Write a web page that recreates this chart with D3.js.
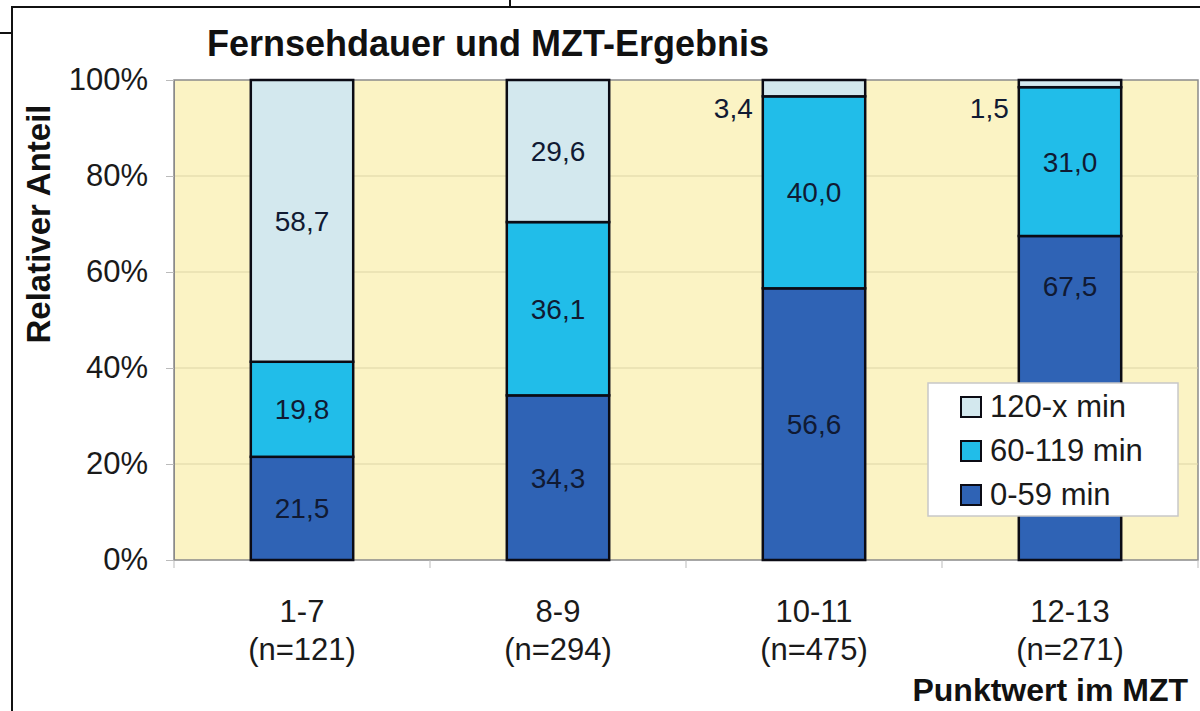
<!DOCTYPE html>
<html>
<head>
<meta charset="utf-8">
<script src="https://cdn.jsdelivr.net/npm/d3@7"></script>
<style>
  body { margin: 0; background: #fff; }
  svg { display: block; font-family: "Liberation Sans", Arial, sans-serif; }
</style>
</head>
<body>
<div id="chart"></div>
<script>
const categories = ["1-7", "8-9", "10-11", "12-13"];
const sampleSizes = ["(n=121)", "(n=294)", "(n=475)", "(n=271)"];
const seriesNames = ["0-59 min", "60-119 min", "120-x min"];
const low = [21.5, 34.3, 56.6, 67.5];
const mid = [19.8, 36.1, 40.0, 31.0];
const high = [58.7, 29.6, 3.4, 1.5];
const yTicks = [0, 20, 40, 60, 80, 100];

const colors = ["#2f63b5", "#21bde9", "#d3e8ee"];

const width = 1200, height = 711;
const margin = { top: 80, right: 2, bottom: 151, left: 174 };

const svg = d3.select("#chart").append("svg")
    .attr("width", width)
    .attr("height", height);

// cropped frame from the source page
svg.append("path")
    .attr("d", "M12,711 V7 H1200 M0,33 H12 M510,0 V7")
    .attr("fill", "none")
    .attr("stroke", "#111")
    .attr("stroke-width", 2);

const x = d3.scaleBand()
    .domain(categories)
    .range([margin.left, width - margin.right])
    .paddingInner(0.6)
    .paddingOuter(0.3);

const y = d3.scaleLinear()
    .domain([0, 100])
    .range([height - margin.bottom, margin.top]);

// plot area background
svg.append("rect")
    .attr("x", margin.left)
    .attr("y", y(100))
    .attr("width", width - margin.right - margin.left)
    .attr("height", y(0) - y(100))
    .attr("fill", "#fbf3c4")
    .attr("stroke", "#8a8a8a")
    .attr("stroke-width", 1.5);

// gridlines
svg.append("g")
    .selectAll("line")
    .data(yTicks.filter(d => d > 0 && d < 100))
    .join("line")
    .attr("x1", margin.left)
    .attr("x2", width - margin.right)
    .attr("y1", d => y(d))
    .attr("y2", d => y(d))
    .attr("stroke", "#ddd5a6")
    .attr("stroke-width", 1.2);

// y axis
const yAxis = svg.append("g")
    .attr("transform", `translate(${margin.left},0)`)
    .call(d3.axisLeft(y).tickValues(yTicks).tickFormat(d => d + "%").tickSize(8).tickPadding(18));
yAxis.select(".domain").attr("stroke", "#8a8a8a");
yAxis.selectAll(".tick line").attr("stroke", "#bbb");
yAxis.selectAll("text")
    .attr("font-size", 31)
    .attr("fill", "#1a1a1a")
    .attr("font-family", "Liberation Sans, Arial, sans-serif");

// x axis ticks at category boundaries
const step = x.step();
const bounds = d3.range(categories.length + 1).map(i => margin.left + i * step);
svg.append("g")
    .selectAll("line")
    .data(bounds)
    .join("line")
    .attr("x1", d => d)
    .attr("x2", d => d)
    .attr("y1", y(0))
    .attr("y2", y(0) + 8)
    .attr("stroke", "#bbb");

const xLabels = svg.append("g")
    .selectAll("text")
    .data(categories)
    .join("text")
    .attr("x", d => x(d) + x.bandwidth() / 2)
    .attr("text-anchor", "middle")
    .attr("font-size", 31)
    .attr("fill", "#1a1a1a");
xLabels.append("tspan").attr("x", d => x(d) + x.bandwidth() / 2).attr("y", 622).text(d => d);
xLabels.append("tspan").attr("x", d => x(d) + x.bandwidth() / 2).attr("y", 660).text((d, i) => sampleSizes[i]);

// stacked bars
const rows = categories.map((c, i) => ({ cat: c, "0-59 min": low[i], "60-119 min": mid[i], "120-x min": high[i] }));
const stack = d3.stack().keys(seriesNames)(rows);

const layers = svg.append("g")
    .selectAll("g")
    .data(stack)
    .join("g")
    .attr("fill", (d, i) => colors[i]);

layers.selectAll("rect")
    .data(d => d)
    .join("rect")
    .attr("x", d => x(d.data.cat))
    .attr("width", x.bandwidth())
    .attr("y", d => y(d[1]))
    .attr("height", d => y(d[0]) - y(d[1]))
    .attr("stroke", "#0b0b14")
    .attr("stroke-width", 2.5);

// value labels; the 12-13 bottom label sits above the legend in the original
const labelAt = { "0-59 min|12-13": 57 };
const fmt = v => v.toFixed(1).replace(".", ",");
stack.forEach(layer => {
    svg.append("g")
        .selectAll("text")
        .data(layer)
        .join("text")
        .attr("font-size", 28)
        .attr("fill", "#101a33")
        .attr("text-anchor", d => (d[1] - d[0]) < 8 ? "end" : "middle")
        .attr("x", d => (d[1] - d[0]) < 8 ? x(d.data.cat) - 10 : x(d.data.cat) + x.bandwidth() / 2)
        .attr("y", d => {
            if ((d[1] - d[0]) < 8) return y(100) + 38;
            const k = layer.key + "|" + d.data.cat;
            const v = k in labelAt ? labelAt[k] : (d[0] + d[1]) / 2;
            return y(v) + 10;
        })
        .text(d => fmt(d[1] - d[0]));
});

// legend
const legend = svg.append("g").attr("transform", "translate(928,383)");
legend.append("rect")
    .attr("width", 250)
    .attr("height", 133)
    .attr("fill", "#fff")
    .attr("stroke", "#c8c8c8")
    .attr("stroke-width", 1.5);
const legendItems = seriesNames.slice().reverse();
const li = legend.selectAll("g.item")
    .data(legendItems)
    .join("g")
    .attr("class", "item")
    .attr("transform", (d, i) => `translate(33,${24 + i * 44})`);
li.append("rect")
    .attr("y", -10)
    .attr("width", 20)
    .attr("height", 20)
    .attr("fill", d => colors[seriesNames.indexOf(d)])
    .attr("stroke", "#0b0b14")
    .attr("stroke-width", 2);
li.append("text")
    .attr("x", 29)
    .attr("y", 10)
    .attr("font-size", 31)
    .attr("fill", "#1a1a1a")
    .text(d => d);

// titles
svg.append("text")
    .attr("x", 207)
    .attr("y", 56)
    .attr("font-size", 36)
    .attr("font-weight", "bold")
    .attr("fill", "#111")
    .text("Fernsehdauer und MZT-Ergebnis");

svg.append("text")
    .attr("transform", "translate(50,224) rotate(-90)")
    .attr("text-anchor", "middle")
    .attr("font-size", 33)
    .attr("font-weight", "bold")
    .attr("fill", "#111")
    .text("Relativer Anteil");

svg.append("text")
    .attr("x", 1188)
    .attr("y", 701)
    .attr("text-anchor", "end")
    .attr("font-size", 32)
    .attr("font-weight", "bold")
    .attr("fill", "#111")
    .text("Punktwert im MZT");
</script>
</body>
</html>
